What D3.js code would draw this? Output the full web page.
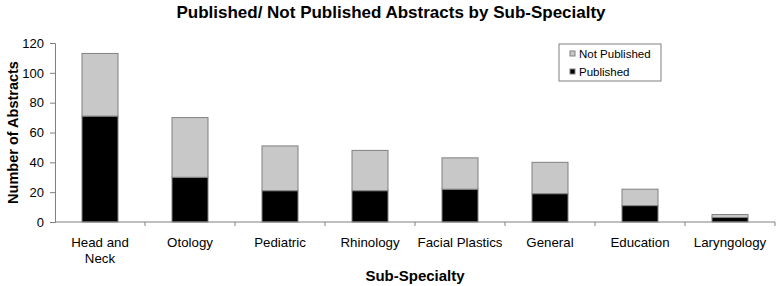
<!DOCTYPE html>
<html>
<head>
<meta charset="utf-8">
<script src="https://cdn.jsdelivr.net/npm/d3@7"></script>
<style>
  body { margin: 0; background: #fff; }
  svg { font-family: "Liberation Sans", Arial, sans-serif; display: block; }
</style>
</head>
<body>
<div id="chart"></div>
<script>
// Data
const categories = ['Head and Neck', 'Otology', 'Pediatric', 'Rhinology', 'Facial Plastics', 'General', 'Education', 'Laryngology'];
const published = [71, 30, 21, 21, 22, 19, 11, 3];
const notPublished = [42, 40, 30, 27, 21, 21, 11, 2];
const yTicks = [0, 20, 40, 60, 80, 100, 120];
const seriesNames = ['Not Published', 'Published'];

const width = 778, height = 286;
const margins = { top: 43, right: 3, bottom: 64, left: 55 };
const innerWidth = width - margins.left - margins.right;
const innerHeight = height - margins.top - margins.bottom;

const svg = d3.select('#chart').append('svg')
    .attr('width', width)
    .attr('height', height);

const g = svg.append('g')
    .attr('transform', `translate(${margins.left},${margins.top})`);

const data = categories.map((c, i) => ({ cat: c, Published: published[i], 'Not Published': notPublished[i] }));
const stack = d3.stack().keys(['Published', 'Not Published'])(data);

const x = d3.scaleBand().domain(categories).range([0, innerWidth]).paddingInner(0.6).paddingOuter(0.3);
const y = d3.scaleLinear().domain([0, 120]).range([innerHeight, 0]);
const colors = { 'Published': '#000000', 'Not Published': '#c8c8c8' };

// Bars
g.selectAll('g.layer')
    .data(stack)
    .enter().append('g')
    .attr('class', 'layer')
    .attr('fill', d => colors[d.key])
    .selectAll('rect')
    .data(d => d)
    .enter().append('rect')
    .attr('x', d => x(d.data.cat))
    .attr('y', d => y(d[1]))
    .attr('width', x.bandwidth())
    .attr('height', d => y(d[0]) - y(d[1]))
    .attr('stroke', '#808080')
    .attr('stroke-width', 1);

// Y axis
const yAxis = g.append('g')
    .call(d3.axisLeft(y).tickValues(yTicks).tickSize(5).tickPadding(6));
yAxis.select('.domain').attr('stroke', '#808080');
yAxis.selectAll('.tick line').attr('stroke', '#808080');
yAxis.selectAll('text').style('font-size', '13px').attr('fill', '#000');

// X axis: line with ticks at category boundaries
const xAxisG = g.append('g').attr('transform', `translate(0,${innerHeight})`);
xAxisG.append('line')
    .attr('x1', 0).attr('x2', innerWidth)
    .attr('stroke', '#808080');
const step = x.step();
xAxisG.selectAll('line.tk')
    .data(categories)
    .enter().append('line')
    .attr('class', 'tk')
    .attr('x1', d => x(d) + x.bandwidth() / 2 + step / 2)
    .attr('x2', d => x(d) + x.bandwidth() / 2 + step / 2)
    .attr('y1', 0).attr('y2', 4)
    .attr('stroke', '#808080');

// Category labels (wrap "Head and Neck")
const labels = xAxisG.selectAll('text.cat')
    .data(categories)
    .enter().append('text')
    .attr('class', 'cat')
    .attr('text-anchor', 'middle')
    .style('font-size', '13.3px')
    .attr('transform', d => `translate(${x(d) + x.bandwidth() / 2},25)`);
labels.each(function(d) {
    const lines = d === 'Head and Neck' ? ['Head and', 'Neck'] : [d];
    d3.select(this).selectAll('tspan')
        .data(lines)
        .enter().append('tspan')
        .attr('x', 0)
        .attr('dy', (l, i) => i === 0 ? 0 : 16)
        .text(l => l);
});

// Axis titles
svg.append('text')
    .attr('x', margins.left + innerWidth / 2)
    .attr('y', 281)
    .attr('text-anchor', 'middle')
    .style('font-size', '15px')
    .style('font-weight', 'bold')
    .text('Sub-Specialty');

svg.append('text')
    .attr('transform', `translate(18,${margins.top + innerHeight / 2}) rotate(-90)`)
    .attr('text-anchor', 'middle')
    .style('font-size', '14.5px')
    .style('font-weight', 'bold')
    .text('Number of Abstracts');

// Title
svg.append('text')
    .attr('x', 391)
    .attr('y', 18)
    .attr('text-anchor', 'middle')
    .style('font-size', '17px')
    .style('font-weight', 'bold')
    .text('Published/ Not Published Abstracts by Sub-Specialty');

// Legend
const legend = svg.append('g').attr('transform', 'translate(559,44)');
legend.append('rect')
    .attr('width', 102).attr('height', 37)
    .attr('fill', '#fff')
    .attr('stroke', '#808080');
seriesNames.forEach((name, i) => {
    legend.append('rect')
        .attr('x', 11).attr('y', 7 + i * 18)
        .attr('width', 5).attr('height', 5)
        .attr('fill', colors[name])
        .attr('stroke', '#808080');
    legend.append('text')
        .attr('x', 20).attr('y', 14 + i * 18)
        .style('font-size', '11.5px')
        .text(name);
});
</script>
</body>
</html>
